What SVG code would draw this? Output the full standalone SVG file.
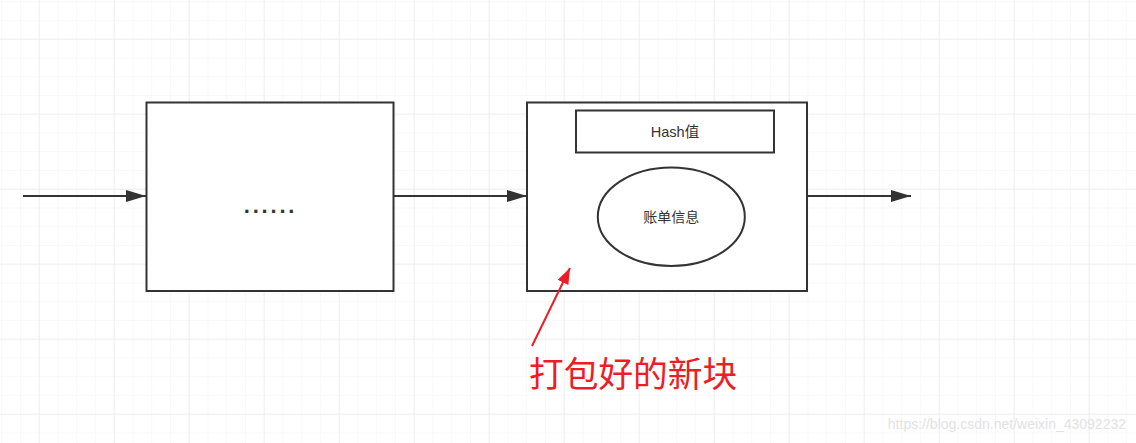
<svg xmlns="http://www.w3.org/2000/svg" width="1136" height="443" viewBox="0 0 1136 443">
<style>
.box{fill:#fff;stroke:#333;stroke-width:2}
.conn{stroke:#333;stroke-width:2;fill:none}
.lbl{font-family:"Liberation Sans","Noto Sans CJK SC",sans-serif;fill:#333;text-anchor:middle}
</style>
<defs>
<pattern id="minor" x="1.2" y="1.2" width="18.75" height="18.75" patternUnits="userSpaceOnUse">
<path d="M0 0H18.75M0 0V18.75" stroke="#f3f3f3" stroke-width="1" fill="none"/>
</pattern>
<pattern id="major" x="38.7" y="38.7" width="75" height="75" patternUnits="userSpaceOnUse">
<path d="M0 0H75M0 0V75" stroke="#e6e6e6" stroke-width="1" fill="none"/>
</pattern>
<marker id="ah" markerWidth="20" markerHeight="12" refX="20" refY="6" orient="auto" markerUnits="userSpaceOnUse">
<path d="M0 0L20 6L0 12Z" fill="#333"/>
</marker>
<marker id="rh" markerWidth="16" markerHeight="12" refX="16" refY="6" orient="auto" markerUnits="userSpaceOnUse">
<path d="M0 0L16 6L0 12Z" fill="#ee1c25"/>
</marker>
</defs>
<rect width="1136" height="443" fill="#fff"/>
<rect width="1136" height="443" fill="url(#minor)"/>
<rect width="1136" height="443" fill="url(#major)"/>
<g id="node-prev">
<rect class="box" x="146.5" y="102.5" width="247" height="188.5"/>
<text class="lbl" x="270.5" y="213" font-size="22" font-weight="bold" letter-spacing="2.8">......</text>
</g>
<g id="node-new">
<rect class="box" x="527" y="102.5" width="280" height="188.5"/>
</g>
<g id="node-hash">
<rect class="box" x="576" y="110.5" width="198" height="42"/>
<text class="lbl" x="675" y="137" font-size="14.5">Hash值</text>
</g>
<g id="node-bill">
<ellipse class="box" cx="671.3" cy="216.7" rx="73.5" ry="49.3"/>
<text class="lbl" x="671.3" y="222" font-size="14">账单信息</text>
</g>
<g id="connectors">
<line class="conn" x1="23" y1="196" x2="146" y2="196" marker-end="url(#ah)"/>
<line class="conn" x1="394" y1="196" x2="527" y2="196" marker-end="url(#ah)"/>
<line class="conn" x1="808" y1="196" x2="911" y2="196" marker-end="url(#ah)"/>
<line x1="532" y1="346" x2="570" y2="268" stroke="#ee1c25" stroke-width="2" marker-end="url(#rh)"/>
</g>
<g id="label-new-block">
<text x="529" y="387" font-family="'Noto Sans CJK SC',sans-serif" font-size="34.7" fill="#ee1c25">打包好的新块</text>
</g>
<text x="1126" y="429" font-family="'Liberation Sans',sans-serif" font-size="14" fill="#e2e2e2" text-anchor="end">https://blog.csdn.net/weixin_43092232</text>
</svg>
